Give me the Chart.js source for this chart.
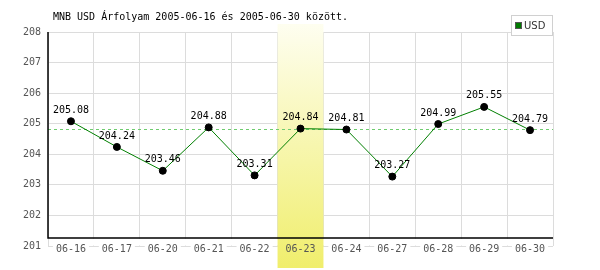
<!DOCTYPE html>
<html>
<head>
<meta charset="utf-8">
<script src="https://cdn.jsdelivr.net/npm/chart.js@4/dist/chart.umd.min.js"></script>
<style>
  html, body { margin: 0; padding: 0; background: #fff; }
  canvas { display: block; }
</style>
</head>
<body>
<canvas id="chart" width="600" height="270"></canvas>
<script>
const napok = ['06-16', '06-17', '06-20', '06-21', '06-22', '06-23', '06-24', '06-27', '06-28', '06-29', '06-30'];
const usdArfolyam = [205.08, 204.24, 203.46, 204.88, 203.31, 204.84, 204.81, 203.27, 204.99, 205.55, 204.79];
const yMin = 201;
const yMax = 208;
const kiemeltNap = '06-23';
const referenciaErtek = 204.84;
const cim = 'MNB USD Árfolyam 2005-06-16 és 2005-06-30 között.';
const sorozatNev = 'USD';

const mono = 'DejaVu Sans Mono';
const kiemeltIndex = napok.indexOf(kiemeltNap);

// extra rajzolas: kiemelt sav, szaggatott vonal, tengelyek, cimkek, cim, jelmagyarazat
const diszites = {
  id: 'diszites',
  afterLayout(chart) {
    // a datum cimkek a fekete tengely alatt kezdodnek, a 201-es racsvonalon
    chart.scales.x.top = chart.chartArea.bottom - 8;
  },
  beforeDatasetsDraw(chart) {
    const { ctx, chartArea, scales } = chart;
    const x = scales.x, y = scales.y;
    const tengelyY = chartArea.bottom - 8;
    ctx.save();
    // a racsvonalak ne latszodjanak a fekete tengely alatt
    ctx.fillStyle = '#fff';
    ctx.fillRect(chartArea.left + 1, tengelyY + 1, chartArea.right - chartArea.left - 1, chartArea.bottom - tengelyY - 1.5);

    // kiemelt nap savja
    const fel = (x.getPixelForTick(1) - x.getPixelForTick(0)) / 2;
    const kx = x.getPixelForTick(kiemeltIndex) - fel;
    const g = ctx.createLinearGradient(0, 24, 0, 268);
    g.addColorStop(0, '#fefef0');
    g.addColorStop(1, '#f0ee6c');
    ctx.fillStyle = g;
    ctx.fillRect(kx, 24, fel * 2, 244);

    // referencia szint
    const ry = Math.round(y.getPixelForValue(referenciaErtek)) + 0.5;
    ctx.strokeStyle = '#6fcc6f';
    ctx.lineWidth = 1;
    ctx.setLineDash([3, 3]);
    ctx.beginPath();
    ctx.moveTo(chartArea.left, ry);
    ctx.lineTo(chartArea.right, ry);
    ctx.stroke();
    ctx.setLineDash([]);

    // fekete tengelyek
    ctx.strokeStyle = '#000';
    ctx.lineWidth = 1.5;
    ctx.beginPath();
    ctx.moveTo(chartArea.left, chartArea.top);
    ctx.lineTo(chartArea.left, tengelyY);
    ctx.lineTo(chartArea.right, tengelyY);
    ctx.stroke();
    ctx.restore();
  },
  afterDatasetsDraw(chart) {
    const { ctx } = chart;
    const meta = chart.getDatasetMeta(0);
    ctx.save();
    ctx.font = '10px "' + mono + '"';
    ctx.fillStyle = '#000';
    ctx.textAlign = 'center';
    ctx.textBaseline = 'middle';
    meta.data.forEach((pont, i) => {
      ctx.fillText(usdArfolyam[i].toFixed(2), pont.x, pont.y - 11);
    });
    ctx.restore();
  },
  afterDraw(chart) {
    const { ctx, chartArea } = chart;
    ctx.save();
    // cim
    ctx.font = '10px "' + mono + '"';
    ctx.fillStyle = '#000';
    ctx.textAlign = 'left';
    ctx.textBaseline = 'middle';
    ctx.fillText(cim, chartArea.left + 5, 17);

    // jelmagyarazat
    ctx.fillStyle = '#fff';
    ctx.fillRect(511, 15, 42, 20);
    ctx.strokeStyle = '#d0d0d0';
    ctx.lineWidth = 1;
    ctx.strokeRect(511.5, 15.5, 41, 20);
    ctx.fillStyle = '#007a00';
    ctx.fillRect(515.5, 22.5, 6, 6);
    ctx.strokeStyle = '#555';
    ctx.strokeRect(515.5, 22.5, 6, 6);
    ctx.font = '10px "DejaVu Sans"';
    ctx.fillStyle = '#333';
    ctx.fillText(sorozatNev, 524, 26);
    ctx.restore();
  }
};

new Chart(document.getElementById('chart'), {
  type: 'line',
  data: {
    labels: napok,
    datasets: [{
      label: sorozatNev,
      data: usdArfolyam,
      borderColor: '#007f00',
      borderWidth: 1,
      pointBackgroundColor: '#000',
      pointBorderColor: '#000',
      pointBorderWidth: 1,
      pointRadius: 3.5,
      tension: 0,
      fill: false
    }]
  },
  options: {
    responsive: false,
    animation: false,
    devicePixelRatio: 1,
    layout: { padding: { top: 32, right: 47, left: 0, bottom: 0 } },
    plugins: {
      legend: { display: false },
      title: { display: false },
      tooltip: { enabled: false }
    },
    scales: {
      x: {
        offset: true,
        grid: { color: '#dcdcdc', offset: true, drawTicks: false },
        border: { display: false },
        ticks: {
          z: 1,
          padding: 5,
          color: '#555',
          maxRotation: 0,
          autoSkip: false,
          showLabelBackdrop: true,
          backdropPadding: { left: 3, right: 3, top: 0, bottom: 0 },
          backdropColor: c => c.index === kiemeltIndex ? 'rgba(0,0,0,0)' : '#fff',
          font: { family: mono, size: 10 }
        },
        afterFit(s) { s.height = 24; }
      },
      y: {
        min: yMin,
        max: yMax,
        grid: { color: '#dcdcdc', drawTicks: false },
        border: { display: false },
        ticks: {
          stepSize: 1,
          padding: 7,
          color: '#555',
          font: { family: mono, size: 10 }
        },
        afterFit(s) { s.width = 48; }
      }
    }
  },
  plugins: [diszites]
});
</script>
</body>
</html>
